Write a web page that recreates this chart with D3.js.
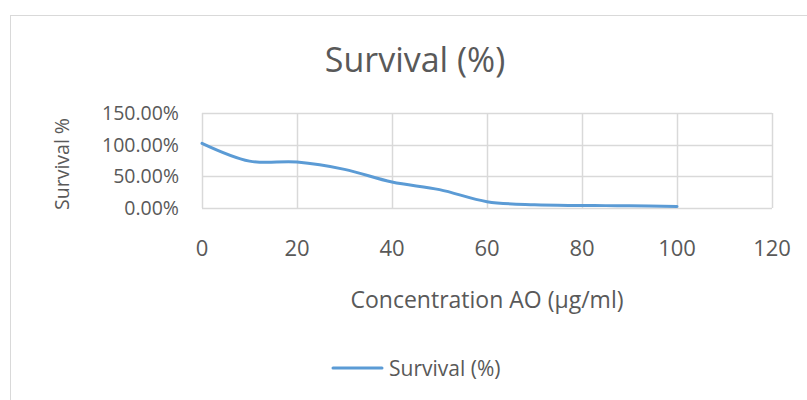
<!DOCTYPE html>
<html>
<head>
<meta charset="utf-8">
<script src="https://cdn.jsdelivr.net/npm/d3@7"></script>
<style>
  body { margin: 0; background: #fff; }
  text { font-family: "Open Sans", "Liberation Sans", sans-serif; fill: #595959; }
</style>
</head>
<body>
<div id="chart"></div>
<script>
const width = 807;
const height = 400;

// data
const concentrations = [0, 10, 20, 30, 40, 50, 60, 70, 80, 90, 100];
const survival = [1.02, 0.74, 0.725, 0.61, 0.41, 0.29, 0.10, 0.05, 0.04, 0.035, 0.025];
const xTicks = [0, 20, 40, 60, 80, 100, 120];
const yTicks = [0, 0.5, 1, 1.5];

const plot = { left: 202, right: 772, top: 113, bottom: 208 };

const svg = d3.select('#chart').append('svg')
  .attr('width', width)
  .attr('height', height);

// chart area border (cropped at right/bottom)
svg.append('rect')
  .attr('x', 10.5)
  .attr('y', 15.5)
  .attr('width', 820)
  .attr('height', 420)
  .attr('fill', '#fff')
  .attr('stroke', '#d9d9d9')
  .attr('stroke-width', 1);

const x = d3.scaleLinear()
  .domain([0, 120])
  .range([plot.left, plot.right]);

const y = d3.scaleLinear()
  .domain([0, 1.5])
  .range([plot.bottom, plot.top]);

// gridlines
svg.append('g')
  .selectAll('line.h')
  .data(yTicks)
  .enter()
  .append('line')
  .attr('x1', plot.left)
  .attr('x2', plot.right)
  .attr('y1', d => Math.round(y(d)) + 0.5)
  .attr('y2', d => Math.round(y(d)) + 0.5)
  .attr('stroke', '#d9d9d9')
  .attr('stroke-width', 1.5);

svg.append('g')
  .selectAll('line.v')
  .data(xTicks)
  .enter()
  .append('line')
  .attr('x1', d => Math.round(x(d)) + 0.5)
  .attr('x2', d => Math.round(x(d)) + 0.5)
  .attr('y1', plot.top)
  .attr('y2', plot.bottom)
  .attr('stroke', '#d9d9d9')
  .attr('stroke-width', 1.5);

// tick labels
const fmt = d3.format('.2%');
svg.append('g')
  .selectAll('text')
  .data(yTicks)
  .enter()
  .append('text')
  .attr('x', 179)
  .attr('y', d => y(d))
  .attr('dy', '0.36em')
  .attr('text-anchor', 'end')
  .attr('font-size', 19.5)
  .text(d => fmt(d));

svg.append('g')
  .selectAll('text')
  .data(xTicks)
  .enter()
  .append('text')
  .attr('x', d => x(d))
  .attr('y', 248)
  .attr('dy', '0.36em')
  .attr('text-anchor', 'middle')
  .attr('font-size', 22)
  .text(d => d);

// series line
const line = d3.line()
  .x((d, i) => x(concentrations[i]))
  .y(d => y(d))
  .curve(d3.curveCatmullRom.alpha(0.5));

svg.append('path')
  .datum(survival)
  .attr('d', line)
  .attr('fill', 'none')
  .attr('stroke', '#5b9bd5')
  .attr('stroke-width', 3)
  .attr('stroke-linecap', 'round');

// titles
svg.append('text')
  .attr('x', 415)
  .attr('y', 72)
  .attr('text-anchor', 'middle')
  .attr('font-size', 34)
  .text('Survival (%)');

svg.append('text')
  .attr('transform', 'translate(69,164) rotate(-90)')
  .attr('text-anchor', 'middle')
  .attr('font-size', 19.5)
  .text('Survival %');

svg.append('text')
  .attr('x', 487)
  .attr('y', 308)
  .attr('text-anchor', 'middle')
  .attr('font-size', 23)
  .text('Concentration AO (µg/ml)');

// legend
svg.append('line')
  .attr('x1', 333)
  .attr('x2', 382)
  .attr('y1', 368)
  .attr('y2', 368)
  .attr('stroke', '#5b9bd5')
  .attr('stroke-width', 3)
  .attr('stroke-linecap', 'round');

svg.append('text')
  .attr('x', 389)
  .attr('y', 368)
  .attr('dy', '0.36em')
  .attr('font-size', 21)
  .text('Survival (%)');
</script>
</body>
</html>
